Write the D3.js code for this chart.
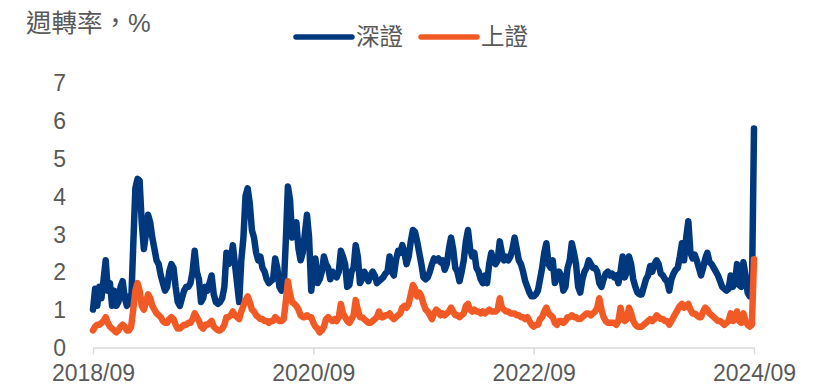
<!DOCTYPE html>
<html>
<head>
<meta charset="utf-8">
<script src="https://cdn.jsdelivr.net/npm/d3@7/dist/d3.min.js"></script>
<style>
  html, body { margin: 0; padding: 0; background: #ffffff; }
  svg { display: block; }
  text { font-family: "Liberation Sans", "Noto Sans CJK TC", sans-serif; fill: #595959; }
</style>
</head>
<body>
<svg id="chart" width="818" height="388"></svg>
<script>
// Weekly turnover rate (%), Sept 2018 – Sept 2024, one value per week
const seriesNames = ["深證", "上證"];
const seriesColors = ["#00387d", "#f15a24"];

const shenzhen = [
  1.0,1.55,1.1,1.6,1.3,1.8,2.3,1.5,1.7,1.1,
  1.5,1.1,1.2,1.6,1.75,1.3,1.1,1.35,1.15,2.7,
  4.2,4.45,4.4,3.3,2.6,3.0,3.5,3.3,2.9,2.6,
  2.3,2.2,1.9,1.7,1.5,1.6,2.0,2.2,2.1,1.6,
  1.2,1.1,1.3,1.5,1.6,1.6,1.7,2.0,2.55,2.0,
  1.8,1.2,1.3,1.6,1.5,1.7,1.9,1.4,1.2,1.15,
  1.2,1.3,1.6,2.5,2.2,2.3,2.7,2.2,1.7,1.2,
  2.3,2.9,4.0,4.2,3.8,3.1,2.9,2.5,2.3,2.4,
  2.1,2.0,1.8,1.7,1.75,1.8,2.35,2.1,1.6,1.5,
  1.55,2.8,4.25,3.9,2.9,3.1,3.3,2.6,2.3,2.5,
  3.0,3.5,2.9,1.5,2.0,2.35,1.7,1.8,2.0,2.4,
  2.2,2.1,1.8,2.0,1.9,1.85,2.0,2.55,2.4,2.2,
  1.6,1.65,2.0,2.1,2.7,2.4,1.7,1.8,2.0,1.9,
  1.75,1.9,2.0,1.9,1.7,1.75,1.8,1.85,1.95,2.0,
  2.4,2.0,1.9,2.3,2.55,2.5,2.7,2.5,2.2,2.4,
  2.8,3.1,3.05,2.8,2.5,2.2,1.85,1.8,1.85,2.0,
  2.2,2.35,2.3,2.35,2.25,2.3,2.05,2.2,2.6,2.9,
  2.6,2.1,2.0,1.75,2.0,2.3,2.8,3.1,2.6,2.4,
  2.5,2.1,2.0,1.8,1.7,1.9,1.7,2.2,2.5,2.3,
  2.2,2.3,2.8,2.5,2.3,2.4,2.3,2.4,2.6,2.9,
  2.6,2.3,2.2,2.0,1.75,1.6,1.45,1.35,1.35,1.4,
  1.5,1.8,2.1,2.5,2.75,2.2,2.1,2.3,1.7,1.85,
  2.0,1.9,1.5,1.6,2.1,2.3,2.75,2.5,2.2,1.6,
  1.45,1.8,2.0,2.1,2.3,2.2,2.1,2.1,2.0,1.7,
  1.6,1.8,1.95,2.0,1.9,1.95,1.85,1.9,1.7,2.0,
  2.4,1.85,2.0,2.4,2.2,1.8,1.6,1.45,1.4,1.4,
  1.6,1.8,1.9,2.15,2.0,2.2,2.3,2.2,1.95,1.9,
  1.8,1.75,1.5,1.8,1.95,2.05,2.1,2.4,2.75,2.3,
  2.9,3.33,2.5,2.35,2.45,2.3,2.1,1.9,2.1,2.35,
  2.5,2.25,2.2,2.1,2.0,1.9,1.75,1.6,1.55,1.5,
  1.55,1.9,1.6,1.7,2.2,1.65,1.6,2.25,1.9,1.45,
  1.35,1.4,5.78
];

const shanghai = [
  0.45,0.55,0.6,0.6,0.65,0.7,0.8,0.65,0.55,0.5,
  0.45,0.4,0.45,0.55,0.6,0.55,0.45,0.45,0.55,1.0,
  1.5,1.7,1.5,1.1,1.0,1.2,1.4,1.3,1.1,1.0,
  0.9,0.85,0.8,0.7,0.65,0.65,0.75,0.8,0.75,0.6,
  0.5,0.5,0.55,0.6,0.6,0.65,0.65,0.75,0.9,0.8,
  0.7,0.55,0.5,0.6,0.6,0.65,0.7,0.55,0.5,0.45,
  0.45,0.5,0.6,0.8,0.8,0.85,0.95,0.85,0.8,0.75,
  0.95,1.1,1.25,1.35,1.2,1.0,0.95,0.85,0.8,0.75,
  0.75,0.7,0.7,0.65,0.7,0.7,0.8,0.75,0.7,0.7,
  0.75,1.2,1.75,1.4,1.2,1.15,1.1,1.0,0.85,0.8,
  0.8,0.85,0.8,0.8,0.65,0.55,0.5,0.4,0.45,0.55,
  0.75,0.8,0.75,0.7,0.75,0.7,0.8,1.15,0.9,0.8,
  0.7,0.65,0.75,0.85,1.25,1.0,0.8,0.8,0.75,0.7,
  0.65,0.65,0.7,0.75,0.8,0.95,0.8,0.8,0.85,0.85,
  0.9,0.8,0.75,0.8,0.85,0.9,1.05,1.1,1.05,1.15,
  1.4,1.65,1.55,1.35,1.45,1.35,1.15,1.0,0.95,0.85,
  0.75,0.9,1.0,0.95,0.85,0.9,0.85,0.9,0.95,1.05,
  0.95,0.85,0.85,0.8,0.85,0.9,1.1,1.15,1.0,0.95,
  1.0,0.95,0.95,0.9,0.95,0.9,0.95,1.0,0.95,0.95,
  0.95,1.0,1.3,1.05,1.0,0.95,0.95,0.9,0.9,0.9,
  0.85,0.85,0.8,0.8,0.75,0.8,0.7,0.6,0.55,0.6,
  0.6,0.75,0.8,0.95,1.05,0.9,0.85,0.8,0.65,0.6,
  0.7,0.7,0.65,0.7,0.8,0.8,0.85,0.8,0.8,0.75,
  0.75,0.8,0.85,0.9,0.9,0.85,0.9,0.95,1.05,1.3,
  1.0,0.8,0.7,0.65,0.65,0.65,0.65,0.6,0.7,1.05,
  0.8,0.7,0.75,1.05,0.9,0.7,0.6,0.55,0.55,0.55,
  0.6,0.65,0.7,0.75,0.7,0.75,0.85,0.8,0.75,0.75,
  0.7,0.7,0.6,0.7,0.8,0.9,1.0,1.1,1.15,1.05,
  1.1,1.15,1.0,0.9,0.9,0.85,0.8,0.8,0.95,1.05,
  1.0,0.9,0.85,0.8,0.75,0.7,0.7,0.65,0.6,0.65,
  0.7,0.9,0.7,0.75,0.95,0.7,0.65,0.9,0.7,0.6,
  0.55,0.6,2.33
];

// x-axis labels sit every 104 weeks
const xTickWeeks = [0, 104, 208, 312];
const xTickLabels = ["2018/09", "2020/09", "2022/09", "2024/09"];
const yTicks = [0, 1, 2, 3, 4, 5, 6, 7];
const titleText = "週轉率，%";

const svg = d3.select("#chart");

const x = d3.scaleLinear().domain([0, shenzhen.length - 1]).range([93, 754]);
const y = d3.scaleLinear().domain([0, 7]).range([347.5, 82.2]);

// title
svg.append("text")
  .attr("x", 26).attr("y", 32)
  .style("font-size", "25.5px")
  .text(titleText);

// y-axis labels only (no axis line, no gridlines)
const yAxis = d3.axisLeft(y).tickValues(yTicks).tickSize(0).tickPadding(0).tickFormat(d3.format("d"));
const gy = svg.append("g").attr("transform", "translate(66,0)").call(yAxis);
gy.select(".domain").remove();
gy.selectAll("text")
  .style("font-size", "23px")
  .attr("fill", "#595959")
  .attr("dy", "0.36em");

// x axis: light baseline with small downward ticks
const xAxis = d3.axisBottom(x)
  .tickValues(xTickWeeks)
  .tickFormat((d, i) => xTickLabels[i])
  .tickSize(7)
  .tickPadding(10)
  .tickSizeOuter(0);
const gx = svg.append("g").attr("transform", "translate(0,347.5)").call(xAxis);
gx.select(".domain").attr("stroke", "#d9d9d9").attr("stroke-width", 1.5);
gx.selectAll(".tick line").attr("stroke", "#d9d9d9").attr("stroke-width", 1.5);
gx.selectAll("text")
  .style("font-size", "23px")
  .attr("fill", "#595959");

// series lines
const line = d3.line()
  .x((d, i) => x(i))
  .y(d => y(d));

[shenzhen, shanghai].forEach((vals, k) => {
  svg.append("path")
    .datum(vals)
    .attr("fill", "none")
    .attr("stroke", seriesColors[k])
    .attr("stroke-width", 6.5)
    .attr("stroke-linejoin", "round")
    .attr("stroke-linecap", "round")
    .attr("d", line);
});

// legend
const legendX = [296, 421];
seriesNames.forEach((name, k) => {
  const g = svg.append("g").attr("transform", `translate(${legendX[k]},37)`);
  g.append("line")
    .attr("x1", 0).attr("x2", 56)
    .attr("y1", 0).attr("y2", 0)
    .attr("stroke", seriesColors[k])
    .attr("stroke-width", 5.5)
    .attr("stroke-linecap", "round");
  g.append("text")
    .attr("x", 60).attr("y", 0)
    .attr("dy", "0.36em")
    .style("font-size", "23.5px")
    .text(name);
});
</script>
</body>
</html>
